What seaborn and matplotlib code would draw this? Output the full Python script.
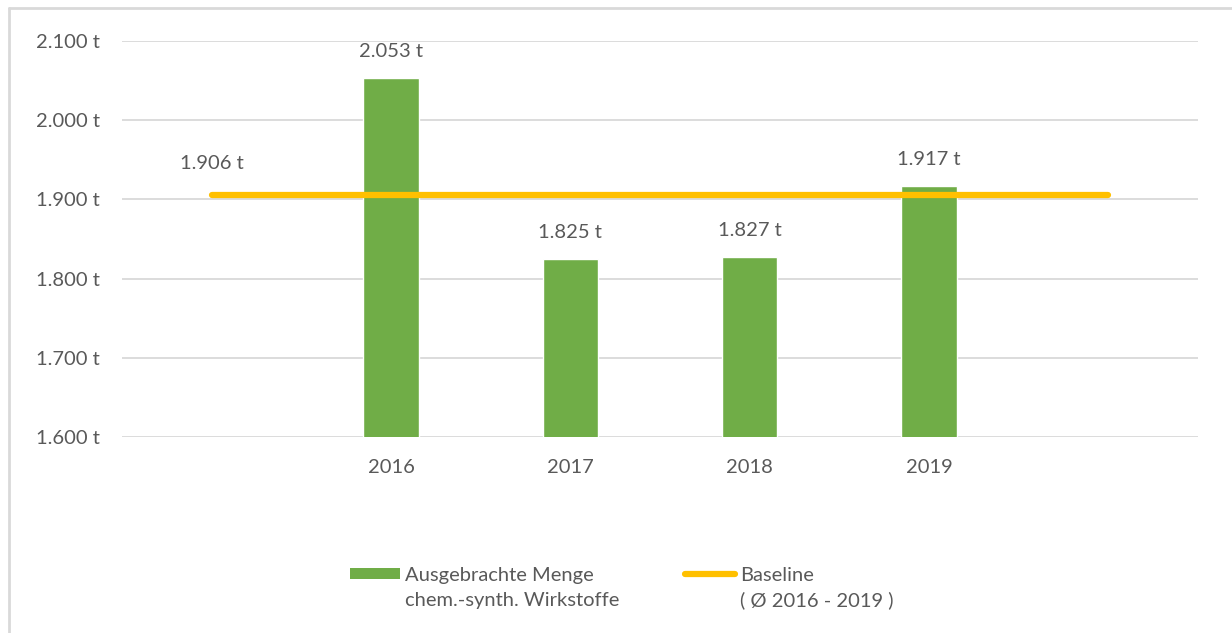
import matplotlib
matplotlib.use("Agg")
import matplotlib.pyplot as plt
import seaborn as sns
from matplotlib.patches import Patch
from matplotlib.lines import Line2D

# data
years = ["2016", "2017", "2018", "2019"]
amounts = [2053, 1825, 1827, 1917]
baseline = 1906
# leere Kategorien links und rechts, wie im Original
order = [""] + years + [" "]
yticks = [1600, 1700, 1800, 1900, 2000, 2100]
legend_first = ["Ausgebrachte Menge", "Baseline"]
legend_second = ["chem.-synth. Wirkstoffe", "( Ø 2016 - 2019 )"]

GREEN = "#70ad47"
YELLOW = "#ffc000"
TEXT = "#595959"
GRID = "#d9d9d9"
FS = 14.5


def fmt_t(v):
    return f"{v:,}".replace(",", ".") + " t"


sns.set_style("white")
plt.rcParams["font.family"] = ["Lato", "DejaVu Sans"]

fig = plt.figure(figsize=(12.32, 6.33), dpi=100)
ax = fig.add_axes([0.099, 0.3096, 0.8734, 0.6256])

sns.barplot(x=years, y=amounts, order=order, color=GREEN, width=0.31,
            saturation=1, ax=ax, zorder=2)
ax.bar_label(ax.containers[0], labels=[fmt_t(v) for v in amounts],
             padding=13, fontsize=FS, color=TEXT)

# baseline über alle Kategorien
ax.hlines(baseline, 0, len(order) - 1, color=YELLOW, lw=4.5,
          capstyle="round", zorder=3)
ax.annotate(fmt_t(baseline), (0, baseline), xytext=(0, 16),
            textcoords="offset points", ha="center", va="bottom",
            fontsize=FS, color=TEXT)

ax.set_ylim(yticks[0], yticks[-1])
ax.set_xlim(-0.5, len(order) - 0.5)
ax.set_yticks(yticks)
ax.set_yticklabels([fmt_t(v) for v in yticks])
ax.yaxis.grid(True, color=GRID, lw=1.3)
ax.set_axisbelow(True)
ax.tick_params(axis="y", length=0, pad=16, labelsize=FS, labelcolor=TEXT)
ax.tick_params(axis="x", length=0, pad=16, labelsize=FS, labelcolor=TEXT)
for s in ax.spines.values():
    s.set_visible(False)
ax.set_xlabel("")
ax.set_ylabel("")

handles = [Patch(facecolor=GREEN, edgecolor="none"),
           Line2D([], [], color=YELLOW, lw=4.5, solid_capstyle="round")]
leg = fig.legend(handles, legend_first, loc="upper left",
                 bbox_to_anchor=(350 / 1232, 0.105), ncol=2, frameon=False,
                 fontsize=FS, handlelength=2.5, handleheight=0.5,
                 handletextpad=0.25, columnspacing=4.5, labelcolor=TEXT,
                 borderpad=0, borderaxespad=0)

# zweite Zeile der Legendeneinträge unter die erste setzen
fig.canvas.draw()
inv = fig.transFigure.inverted()
for t, second in zip(leg.get_texts(), legend_second):
    bb = t.get_window_extent()
    x0, y0 = inv.transform((bb.x0, bb.y0))
    fig.text(x0, y0 - 8 / 633, second, ha="left", va="top",
             fontsize=FS, color=TEXT)

# grauer Rahmen
fig.add_artist(Line2D([0.0073, 1.0], [0.9874, 0.9874], color=GRID, lw=2,
                      transform=fig.transFigure))
fig.add_artist(Line2D([0.0073, 0.0073], [0.0, 0.9874], color=GRID, lw=2,
                      transform=fig.transFigure))

fig.savefig("out.png", dpi=100)
